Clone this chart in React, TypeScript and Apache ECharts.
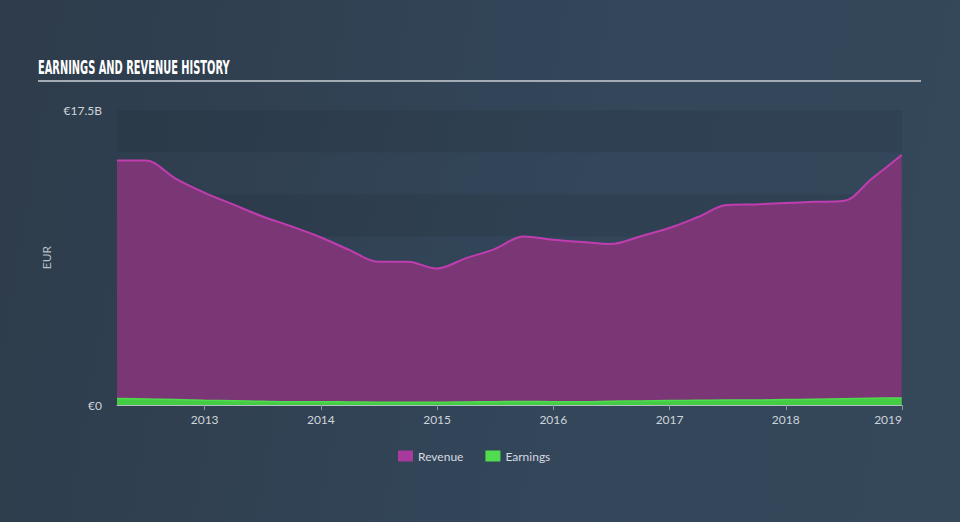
import React, { useEffect, useRef } from "react";
import * as echarts from "echarts";

const dates = [
  "2012-03-31", "2012-06-30", "2012-09-30", "2012-12-31",
  "2013-03-31", "2013-06-30", "2013-09-30", "2013-12-31",
  "2014-03-31", "2014-06-30", "2014-09-30", "2014-12-31",
  "2015-03-31", "2015-06-30", "2015-09-30", "2015-12-31",
  "2016-03-31", "2016-06-30", "2016-09-30", "2016-12-31",
  "2017-03-31", "2017-06-30", "2017-09-30", "2017-12-31",
  "2018-03-31", "2018-06-30", "2018-09-30", "2018-12-31",
];

// billions of EUR
const revenue = [
  14.5, 14.5, 13.45, 12.6,
  11.9, 11.2, 10.6, 9.95,
  9.2, 8.5, 8.5, 8.1,
  8.7, 9.25, 10.0, 9.8,
  9.67, 9.55, 10.0, 10.5,
  11.15, 11.86, 11.9, 11.98,
  12.05, 12.1, 13.45, 14.83,
];

const earnings = [
  0.38, 0.36, 0.32, 0.28,
  0.25, 0.22, 0.2, 0.2,
  0.18, 0.17, 0.16, 0.16,
  0.18, 0.2, 0.21, 0.2,
  0.2, 0.22, 0.24, 0.26,
  0.28, 0.3, 0.3, 0.32,
  0.34, 0.37, 0.4, 0.42,
];

const yearTicks = [2013, 2014, 2015, 2016, 2017, 2018, 2019];

const title = "EARNINGS AND REVENUE HISTORY";

function decimalYear(d: string): number {
  const t = new Date(d + "T00:00:00Z");
  const y = t.getUTCFullYear();
  const start = Date.UTC(y, 0, 1);
  const end = Date.UTC(y + 1, 0, 1);
  return y + (t.getTime() - start) / (end - start);
}

export default function App() {
  const ref = useRef<HTMLDivElement>(null);
  useEffect(() => {
    if (!ref.current) return;
    const chart = echarts.init(ref.current, null, { renderer: "svg" });
    chart.setOption({
      animation: false,
      backgroundColor: "transparent",
      graphic: [
        {
          type: "text",
          x: 38,
          y: 68,
          scaleX: 0.645,
          scaleY: 1.1,
          style: {
            text: title,
            fill: "#ffffff",
            font: "bold 17px 'DejaVu Sans Condensed', 'DejaVu Sans', sans-serif",
            textVerticalAlign: "middle",
            verticalAlign: "middle",
          },
        },
        {
          type: "line",
          shape: { x1: 38, y1: 81, x2: 921, y2: 81 },
          style: { stroke: "#a3abb4", lineWidth: 2 },
        },
      ],
      legend: {
        bottom: 55,
        left: 393,
        icon: "rect",
        itemWidth: 15,
        itemHeight: 11,
        itemGap: 22,
        textStyle: { color: "#d6dbe0", fontSize: 12, fontFamily: "Lato, 'Open Sans', sans-serif" },
        data: ["Revenue", "Earnings"],
      },
      grid: { left: 117, right: 58, top: 110, bottom: 117 },
      xAxis: {
        type: "value",
        min: decimalYear("2012-03-31"),
        max: 2019,
        axisLine: { show: true, lineStyle: { color: "#b4bcc4", width: 1 } },
        axisTick: {
          show: true,
          length: 5,
          lineStyle: { color: "#8e98a3" },
          customValues: yearTicks,
        },
        axisLabel: {
          color: "#cfd4da",
          fontSize: 12,
          fontFamily: "Lato, 'Open Sans', sans-serif",
          margin: 8,
          customValues: yearTicks,
          alignMaxLabel: "right",
          formatter: (v: number) => String(Math.round(v)),
        },
        splitLine: { show: false },
      },
      yAxis: {
        type: "value",
        min: 0,
        max: 17.5,
        interval: 2.5,
        name: "EUR",
        nameLocation: "middle",
        nameRotate: 90,
        nameGap: 48,
        nameTextStyle: { color: "#b8c0c8", fontSize: 12, fontFamily: "Lato, 'Open Sans', sans-serif" },
        axisLine: { show: false },
        axisTick: { show: false },
        splitLine: { show: false },
        splitArea: {
          show: true,
          areaStyle: { color: ["rgba(20,30,42,0.13)", "rgba(255,255,255,0.0)"] },
        },
        axisLabel: {
          color: "#cfd4da",
          fontSize: 12,
          fontFamily: "Lato, 'Open Sans', sans-serif",
          margin: 15,
          formatter: (v: number) => (v === 0 ? "€0" : v === 17.5 ? "€17.5B" : ""),
        },
      },
      series: [
        {
          name: "Revenue",
          type: "line",
          smooth: 0.35,
          symbol: "none",
          data: dates.map((d, i) => [decimalYear(d), revenue[i]]),
          lineStyle: { color: "#c03db0", width: 2 },
          itemStyle: { color: "#a83a9c" },
          areaStyle: { color: "#7b3775", opacity: 1 },
          z: 2,
        },
        {
          name: "Earnings",
          type: "line",
          smooth: 0.35,
          symbol: "none",
          data: dates.map((d, i) => [decimalYear(d), earnings[i]]),
          lineStyle: { color: "#4fdc4f", width: 1.5 },
          itemStyle: { color: "#4fdc4f" },
          areaStyle: { color: "#44cc44", opacity: 1 },
          z: 3,
        },
      ],
    });
    return () => chart.dispose();
  }, []);
  return (
    <div
      style={{
        position: "absolute",
        left: 0,
        top: 0,
        width: 960,
        height: 522,
        background: "linear-gradient(100deg, #2e3c4b 0%, #33465a 60%, #34485a 100%)",
      }}
    >
      <div ref={ref} style={{ width: 960, height: 522 }} />
    </div>
  );
}
